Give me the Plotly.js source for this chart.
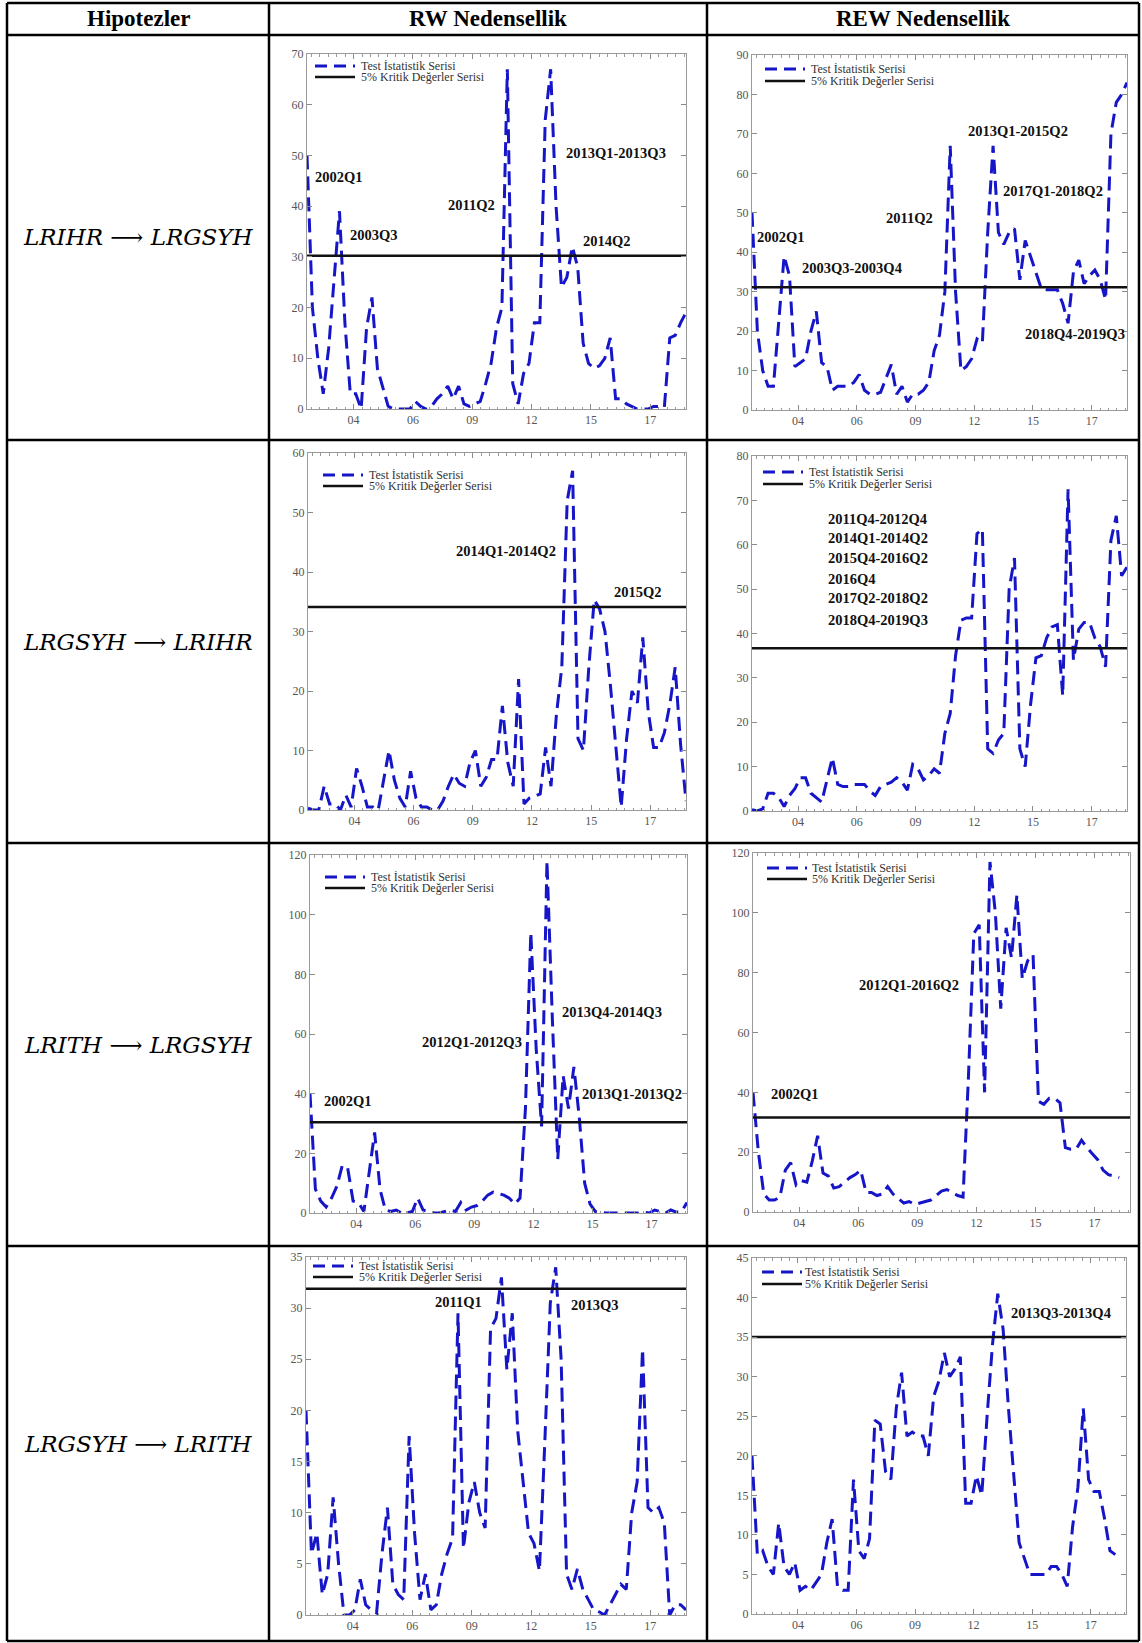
<!DOCTYPE html>
<html><head><meta charset="utf-8">
<script src="https://cdn.plot.ly/plotly-3.0.1.min.js"></script>
<style>html,body{margin:0;padding:0;background:#fff;}#chart{width:1142px;height:1643px;}</style>
</head><body><div id="chart"></div>
<script>
// ---------------- DATA ----------------
const headers = ['Hipotezler', 'RW Nedensellik', 'REW Nedensellik'];
const hypotheses = ['LRIHR ⟶ LRGSYH', 'LRGSYH ⟶ LRIHR', 'LRITH ⟶ LRGSYH', 'LRGSYH ⟶ LRITH'];
const legendNames = ['Test İstatistik Serisi', '5% Kritik Değerler Serisi'];
const tickLabels = ['04', '06', '09', '12', '15', '17'];
const tickYears = [2004.15, 2006.89, 2009.63, 2012.37, 2015.11, 2017.85];
const firstQuarter = 2002;   // 2002Q1
const lastQuarter = 2019.5;  // 2019Q3

const rwH1 = [50,20,10,3,12,25,39,17,3,3, 0,16,22,8,4,0.5,0,0,0,0, 1.5,0.5,0,0.5,2,3,4.5,2,4.5,1, 0.5,1,1.5,5,9,16,20,67,5,1, 7,9,17,17,57,67,40,24,26,32, 28,13,9,8,8.5,10,14,2,2,1, 0.5,0,0,0,0.5,0.5,0.3,14,14.5,17, 19];
const reH1 = [50,20,10,6,6,22,39,34,11,12, 13,20,25,12,11,5,6,6,6,7, 9,5,4,4,4.5,8,11.5,4,6,2, 4,4,5,7,15,19,30,67,30,10, 11,13,18,17,45,67,45,42,45,46, 33,43,39,35,30.8,30.5,30.5,30.5,27,22, 35,38,32,34,35.5,33,28,70,78,80, 83];
const rwH2 = [0.3,0,0,4,1,1,0,2.5,0.5,7, 4,0.5,0.5,0,5,10,5,2,0.5,6.5, 2,0.5,0.5,0,0,1.5,4,6,4.5,4, 8,10,4,5.5,8.5,8.5,17.5,8,4,22, 1,2,2.3,2.7,10.5,4,16,24,52,57, 12,10,24,35.3,33.8,30,21,11,0.5,12, 20,18,29,16.6,10.5,10.5,13,17.7,24,11, 1.5];
const reH2 = [0.3,0,0.5,4,4,3,1,3.5,5,7.5, 7.5,4,3,2,7,12,6,5.5,5.5,6, 6,6,4.5,3.5,5.5,6,6.5,7.5,6.5,4.7, 10.5,9.5,7,8,9.5,8.5,17.5,22,35,43, 43.5,43.5,62.5,63.5,14,13,16,17.5,50,57, 14,10,24,34.5,35,39,41.5,42,26,72.5, 34,41,42.5,42.5,39,37,32.5,61,66.5,53, 55];
const rwH3 = [40,8,4,2,5,9,16,15,4,3.5, 0.5,14,27,8,1,0.5,1,0,0,0.5, 5,1,0.5,0,0,0.5,1,0.5,3.5,1, 2,2.5,4,6,7,6.5,6,5,3,5, 35,94,55,29,118,65,18,46,35,49, 32,10,3,0.5,0.2,0,0,0,0,0, 0,0,0.3,0,1,0.5,0,1,0.3,0.5, 3.5];
const reH3 = [40,20,6,4,4,5,14,16.5,9,10.5, 10,17,25.5,13,12,8,8.5,10,11.5,12.5, 14,6.5,6.5,5.5,6,8.5,6,4.5,3,3.5, 2.5,3,3.5,4,5.5,7,7.5,6.5,5.5,5, 45,93,96,40,117,100,68,95,85,106, 78,84,86,37,36,38,38,36.5,21.5,21, 21,24,21.5,19.5,17.5,14,12.5,12,11.5];
const rwH4 = [20,6,8,2,4,11.5,5,0,0,0.5, 3.5,1,0.5,0.2,6,10.5,3,2,1.5,17.5, 8,1.5,4,0.5,1,4,6,7.5,29.5,6.5, 11,13,10,8.5,28,29,33,24,29.5,18, 13,8,7,4.3,17,30.5,34,25,4,2.5, 4.5,2.5,1.5,0.5,0.3,0,1,2,3,2.5, 10,13,26,10.5,10,10.5,9,0,1,1, 0.5];
const reH4 = [20,7.5,8,6,5,11.5,6,5,6.5,3, 3.5,3,4,5,9,12,3.5,3,3,17, 8,7,9.5,24.5,24,18,17,26,30.5,22.5, 23,22.5,22.5,20,27.5,29.5,33,30,31,32.5, 14,14,17.5,15,25,34,40.5,36,26,17, 9,7,5,5,5,5,6,6,5,3.5, 11,16,26,17,15.5,15.5,12,8,7.5];
const criticalValues = [30.2, 31.1, 34.1, 36.7, 30.4, 31.6, 31.9, 35.0];
const yMax = [70, 90, 60, 80, 120, 120, 35, 45];
const yStep = [10, 10, 10, 10, 20, 20, 5, 5];

const periodTexts = [
  ['2002Q1', '2003Q3', '2011Q2', '2013Q1-2013Q3', '2014Q2'],
  ['2002Q1', '2003Q3-2003Q4', '2011Q2', '2013Q1-2015Q2', '2017Q1-2018Q2', '2018Q4-2019Q3'],
  ['2014Q1-2014Q2', '2015Q2'],
  ['2011Q4-2012Q4', '2014Q1-2014Q2', '2015Q4-2016Q2', '2016Q4', '2017Q2-2018Q2', '2018Q4-2019Q3'],
  ['2002Q1', '2012Q1-2012Q3', '2013Q4-2014Q3', '2013Q1-2013Q2'],
  ['2002Q1', '2012Q1-2016Q2'],
  ['2011Q1', '2013Q3'],
  ['2013Q3-2013Q4']
];

// ---------------- LAYOUT CONFIG ----------------
const W = 1142, H = 1643;
const colX = [7, 269, 707, 1139];
const rowY = [3, 35, 440, 843, 1246, 1641];
// plot boxes in px: [left, top, right, bottom]
const boxes = [
  [307, 54, 686, 409], [752, 55, 1127, 410],
  [308, 453, 686, 810], [752, 456, 1127, 811],
  [310, 855, 687, 1213], [753, 853, 1130, 1212],
  [306, 1257, 686, 1615], [752, 1258, 1126, 1614]
];
// legend offsets from box: [sampleDx, textDx, row1Dy, row2Dy]
const legendOff = [
  [8, 52, 12, 23], [13, 57, 14, 26], [15, 59, 22, 33], [11, 55, 16, 28],
  [15, 59, 22, 33], [14, 57, 15, 26], [7, 51, 9, 20], [10, 51, 14, 26]
];
// label anchor positions in data units [x(year), y, xanchor]
const periodPos = [
  [[2003.49, 45.8], [2005.11, 34.3], [2009.58, 40.2], [2016.28, 50.4], [2015.86, 33.2]],
  [[2003.37, 43.8], [2006.67, 35.9], [2009.36, 48.6], [2014.40, 70.8], [2016.05, 55.6], [2017.09, 19.3]],
  [[2011.16, 43.6], [2017.28, 36.6]],
  [[2005.45, 65.7, 'left'], [2005.45, 61.6, 'left'], [2005.45, 57.0, 'left'], [2005.45, 52.3, 'left'], [2005.45, 47.9, 'left'], [2005.45, 43.1, 'left']],
  [[2003.75, 37.7], [2009.50, 57.4], [2016.04, 67.5], [2016.96, 40.0]],
  [[2003.97, 39.3], [2009.25, 75.9]],
  [[2009.0, 30.6], [2015.31, 30.3]],
  [[2016.45, 38.1]]
];

const series = [rwH1, reH1, rwH2, reH2, rwH3, reH3, rwH4, reH4];
const BLUE = '#1616c8';
const px = v => v / W, py = v => 1 - v / H;

const traces = [], annotations = [], shapes = [];
const layout = {
  width: W, height: H, margin: {l: 0, r: 0, t: 0, b: 0},
  paper_bgcolor: '#ffffff', plot_bgcolor: 'rgba(0,0,0,0)',
  showlegend: false, hovermode: 'closest',
  font: {family: 'Liberation Serif, Times New Roman, serif', color: '#000'}
};

series.forEach((vals, k) => {
  const s = k === 0 ? '' : String(k + 1);
  const xs = vals.map((_, i) => firstQuarter + i / 4);
  traces.push({
    type: 'scatter', mode: 'lines', x: xs, y: vals, xaxis: 'x' + s, yaxis: 'y' + s,
    name: legendNames[0], line: {color: BLUE, width: 3, dash: '14px,7px'}
  });
  traces.push({
    type: 'scatter', mode: 'lines', x: [firstQuarter, lastQuarter], y: [criticalValues[k], criticalValues[k]],
    xaxis: 'x' + s, yaxis: 'y' + s, name: legendNames[1], line: {color: '#111', width: 2.5}
  });
  const b = boxes[k];
  layout['xaxis' + s] = {
    domain: [px(b[0]), px(b[2])], range: [firstQuarter, lastQuarter], anchor: 'y' + s,
    tickmode: 'array', tickvals: tickYears, ticktext: tickLabels,
    ticks: 'inside', ticklen: 5, tickwidth: 1, tickcolor: '#8a8a8a',
    showline: true, linecolor: '#9a9a9a', linewidth: 1, mirror: 'ticks',
    showgrid: false, zeroline: false, fixedrange: true,
    tickfont: {family: 'Liberation Serif, serif', size: 12, color: '#555'},
    minor: {ticks: 'inside', ticklen: 2.5, tickcolor: '#9a9a9a', tick0: 2004.15, dtick: 0.3914, showgrid: false}
  };
  layout['yaxis' + s] = {
    domain: [py(b[3]), py(b[1])], range: [0, yMax[k]], anchor: 'x' + s,
    tickmode: 'linear', tick0: 0, dtick: yStep[k],
    ticks: 'inside', ticklen: 5, tickwidth: 1, tickcolor: '#8a8a8a',
    showline: true, linecolor: '#9a9a9a', linewidth: 1, mirror: 'ticks',
    showgrid: false, zeroline: false, fixedrange: true,
    tickfont: {family: 'Liberation Serif, serif', size: 12, color: '#555'}
  };
  // period annotations
  periodTexts[k].forEach((t, j) => {
    const p = periodPos[k][j];
    annotations.push({
      text: '<b>' + t + '</b>', x: p[0], y: p[1], xref: 'x' + s, yref: 'y' + s,
      xanchor: p[2] || 'center', yanchor: 'middle', showarrow: false,
      font: {family: 'Liberation Serif, serif', size: 14.5, color: '#111'}
    });
  });
  // legend (sample lines + text)
  const o = legendOff[k];
  const sx0 = b[0] + o[0], sx1 = sx0 + 40, tx = b[0] + o[1];
  const r1 = b[1] + o[2], r2 = b[1] + o[3];
  shapes.push({type: 'line', xref: 'paper', yref: 'paper', x0: px(sx0), x1: px(sx1), y0: py(r1), y1: py(r1),
    line: {color: BLUE, width: 3, dash: '12px,7px'}});
  shapes.push({type: 'line', xref: 'paper', yref: 'paper', x0: px(sx0), x1: px(sx1), y0: py(r2), y1: py(r2),
    line: {color: '#111', width: 2.5}});
  [[legendNames[0], r1], [legendNames[1], r2]].forEach(([t, ry]) => {
    annotations.push({text: t, x: px(tx), y: py(ry), xref: 'paper', yref: 'paper', xanchor: 'left', yanchor: 'middle',
      showarrow: false, font: {family: 'Liberation Serif, serif', size: 12, color: '#333'}});
  });
});

// table borders
colX.forEach(x => shapes.push({type: 'line', xref: 'paper', yref: 'paper', x0: px(x), x1: px(x), y0: py(rowY[0]), y1: py(rowY[rowY.length - 1]), line: {color: '#000', width: 2.5}}));
rowY.forEach(y => shapes.push({type: 'line', xref: 'paper', yref: 'paper', x0: px(colX[0]), x1: px(colX[colX.length - 1]), y0: py(y), y1: py(y), line: {color: '#000', width: 2.5}}));

// headers
headers.forEach((h, c) => annotations.push({
  text: '<b>' + h + '</b>', x: px((colX[c] + colX[c + 1]) / 2), y: py((rowY[0] + rowY[1]) / 2),
  xref: 'paper', yref: 'paper', xanchor: 'center', yanchor: 'middle', showarrow: false,
  font: {family: 'Liberation Serif, Times New Roman, serif', size: 23, color: '#000'}
}));
// hypotheses
hypotheses.forEach((h, r) => annotations.push({
  text: '<i>' + h + '</i>', x: px((colX[0] + colX[1]) / 2), y: py((rowY[r + 1] + rowY[r + 2]) / 2),
  xref: 'paper', yref: 'paper', xanchor: 'center', yanchor: 'middle', showarrow: false,
  font: {family: 'DejaVu Serif, serif', size: 23, color: '#000'}
}));

layout.shapes = shapes;
layout.annotations = annotations;
Plotly.newPlot('chart', traces, layout, {displayModeBar: false});
</script></body></html>
